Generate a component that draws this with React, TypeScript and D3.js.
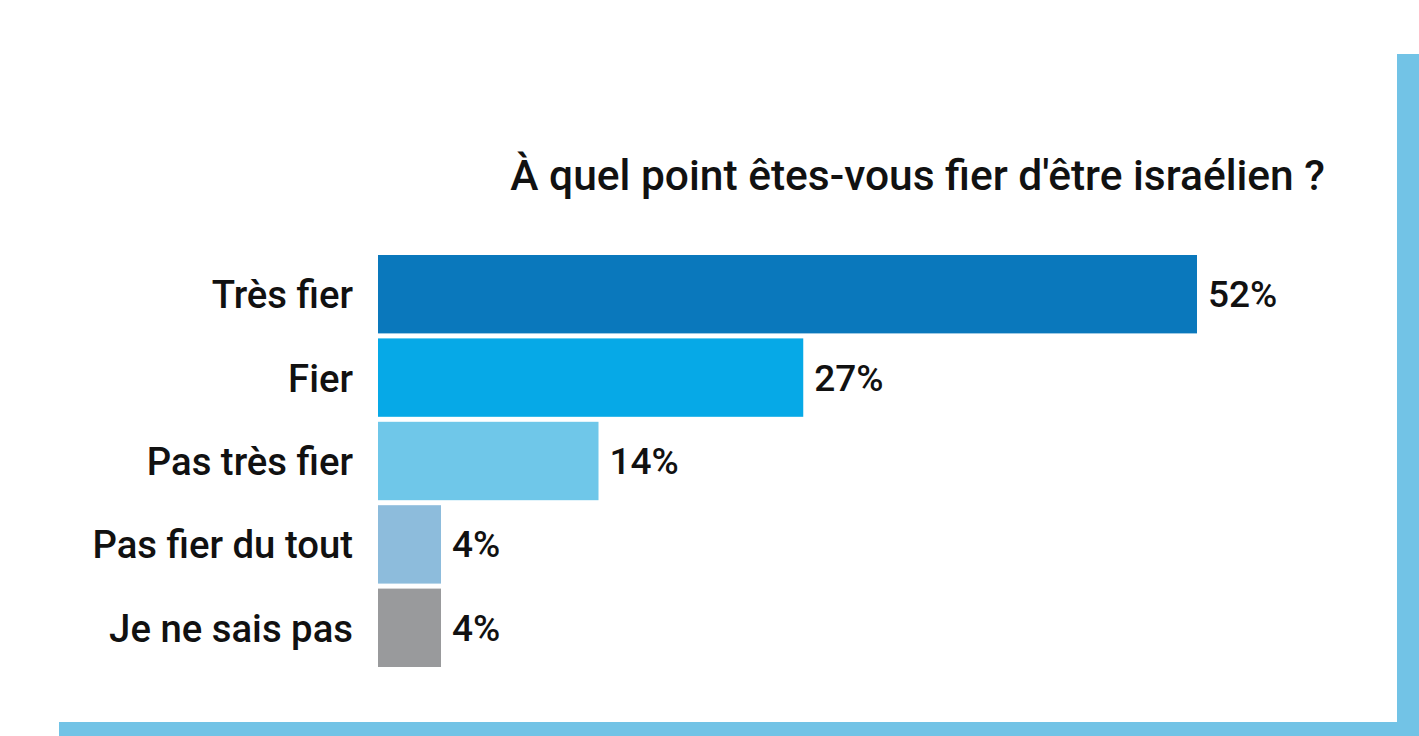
import React from "react";
import * as d3 from "d3";

const categories = ["Très fier", "Fier", "Pas très fier", "Pas fier du tout", "Je ne sais pas"];
const values = [52, 27, 14, 4, 4];
const valueLabels = ["52%", "27%", "14%", "4%", "4%"];
const colors = ["#0a78bc", "#06a9e7", "#6fc7e9", "#8dbcdc", "#999a9c"];
const title = "À quel point êtes-vous fier d'être israélien ?";

export default function App() {
  const W = 1419;
  const H = 736;
  const x = d3.scaleLinear().domain([0, 52]).range([378, 1197]);
  const y = d3.scaleBand<string>().domain(categories).range([255, 667]).paddingInner(0.06).paddingOuter(0);
  const font = "Roboto, 'Open Sans', sans-serif";
  return (
    <svg width={W} height={H} style={{ position: "absolute", left: 0, top: 0, background: "#fff" }}>
      <rect x={0} y={0} width={W} height={H} fill="#ffffff" />
      <rect x={1397} y={54} width={22} height={H - 54} fill="#72c3e6" />
      <rect x={59} y={722} width={W - 59} height={14} fill="#72c3e6" />
      <text x={1325} y={190} textAnchor="end" fontFamily={font} fontWeight={500} fontSize={42.5} fill="#111">
        {title}
      </text>
      {categories.map((c, i) => {
        const yy = y(c)!;
        const bw = y.bandwidth();
        return (
          <g key={c}>
            <rect x={x(0)} y={yy} width={x(values[i]) - x(0)} height={bw} fill={colors[i]} />
            <text x={353} y={yy + bw / 2 + 14} textAnchor="end" fontFamily={font} fontWeight={500} fontSize={38.3} fill="#111">
              {c}
            </text>
            <text x={x(values[i]) + 11} y={yy + bw / 2 + 13} textAnchor="start" fontFamily={font} fontWeight={500} fontSize={37} fill="#111">
              {valueLabels[i]}
            </text>
          </g>
        );
      })}
    </svg>
  );
}
